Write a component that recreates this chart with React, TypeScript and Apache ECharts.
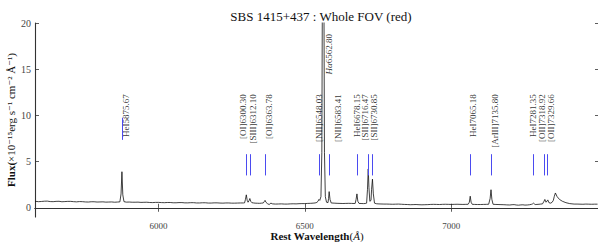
import React, { useEffect, useRef } from "react";
import * as echarts from "echarts";

const wavelength = [
  5578, 5590, 5600, 5610, 5620, 5630, 5640, 5650, 5660, 5670, 5680, 5690, 5700, 5710, 5720, 5730, 5740, 5750, 5760, 5770, 5780, 5790, 5800, 5810, 5820, 5830, 5840, 5850, 5860, 5868, 5872, 5875, 5878, 5882, 5890,
  5900, 5910, 5920, 5930, 5940, 5950, 5960, 5970, 5980, 5990, 6000, 6010, 6020, 6030, 6040, 6050, 6060, 6070, 6080, 6090, 6100, 6110, 6120, 6130, 6140, 6150, 6160, 6170, 6180, 6190, 6200, 6210, 6220, 6230, 6240, 6250, 6260, 6270, 6280, 6290, 6294, 6297, 6300, 6303, 6306, 6309, 6312, 6315, 6319,
  6325, 6330, 6338, 6345, 6352, 6358, 6361, 6364, 6367, 6372, 6378, 6384, 6390, 6400, 6410, 6420, 6430, 6440, 6450, 6460, 6470, 6480, 6490, 6500, 6510, 6520, 6528, 6535, 6541, 6545, 6548, 6551, 6555, 6558, 6560, 6562.8, 6565, 6567, 6570, 6574, 6579, 6581, 6583, 6586, 6590,
  6600, 6610, 6620, 6630, 6640, 6650, 6660, 6668, 6672, 6675, 6678, 6681, 6685, 6692, 6700, 6706, 6711, 6714, 6716.5, 6719, 6722, 6726, 6728, 6731, 6734, 6738, 6744, 6750, 6760, 6770, 6780, 6790, 6800, 6810, 6820, 6830, 6840, 6850, 6860, 6870, 6880, 6890, 6900, 6910, 6920, 6930, 6940, 6950, 6960, 6970, 6980, 6990,
  7000, 7010, 7020, 7030, 7040, 7050, 7058, 7062, 7065, 7068, 7072, 7080, 7090, 7100, 7110, 7120, 7128, 7133, 7136, 7139, 7143, 7150, 7160, 7170, 7180, 7190, 7200, 7208, 7215, 7222, 7230, 7238, 7245, 7252, 7260, 7268, 7275, 7278, 7281, 7284, 7287, 7293, 7300, 7306, 7312, 7317, 7320, 7324, 7328, 7330, 7334, 7340, 7345, 7349, 7352, 7356, 7362, 7370, 7380, 7392, 7405, 7420, 7430, 7440, 7450, 7460, 7470, 7480, 7490, 7500,
];

const flux = [
  0.70, 0.66, 0.68, 0.71, 0.72, 0.67, 0.66, 0.69, 0.70, 0.65, 0.67, 0.69, 0.69, 0.66, 0.64, 0.67, 0.66, 0.63, 0.62, 0.65, 0.65, 0.62, 0.63, 0.64, 0.61, 0.62, 0.63, 0.60, 0.62, 0.64, 1.5, 3.9, 1.4, 0.66, 0.61,
  0.62, 0.60, 0.60, 0.61, 0.58, 0.59, 0.60, 0.57, 0.56, 0.58, 0.58, 0.56, 0.55, 0.57, 0.57, 0.54, 0.54, 0.56, 0.56, 0.53, 0.53, 0.55, 0.55, 0.52, 0.52, 0.54, 0.54, 0.51, 0.51, 0.53, 0.53, 0.51, 0.50, 0.52, 0.52, 0.50, 0.50, 0.51, 0.52, 0.52, 0.53, 0.9, 1.4, 0.8, 0.6, 0.75, 1.0, 0.7, 0.55,
  0.52, 0.50, 0.49, 0.48, 0.50, 0.52, 0.65, 0.8, 0.6, 0.45, 0.35, 0.50, 0.42, 0.40, 0.41, 0.42, 0.40, 0.40, 0.42, 0.43, 0.42, 0.44, 0.45, 0.45, 0.47, 0.48, 0.50, 0.52, 0.58, 0.7, 0.9, 0.8, 1.2, 6, 25, 45, 25, 6, 1.2, 0.6, 0.55, 1.0, 1.75, 0.9, 0.52,
  0.50, 0.48, 0.47, 0.46, 0.47, 0.48, 0.47, 0.46, 0.47, 0.9, 1.5, 0.7, 0.47, 0.46, 0.45, 0.46, 0.50, 2.0, 4.2, 2.2, 0.7, 0.8, 2.0, 3.1, 1.5, 0.5, 0.44, 0.42, 0.41, 0.40, 0.40, 0.39, 0.38, 0.39, 0.40, 0.38, 0.36, 0.35, 0.33, 0.34, 0.35, 0.33, 0.32, 0.33, 0.34, 0.36, 0.37, 0.36, 0.35, 0.37, 0.38, 0.37,
  0.36, 0.37, 0.38, 0.37, 0.36, 0.37, 0.38, 0.6, 1.25, 0.6, 0.37, 0.36, 0.35, 0.35, 0.36, 0.37, 0.38, 1.0, 1.95, 0.9, 0.38, 0.36, 0.35, 0.34, 0.33, 0.31, 0.30, 0.33, 0.34, 0.30, 0.28, 0.31, 0.32, 0.29, 0.30, 0.33, 0.38, 0.42, 0.50, 0.42, 0.35, 0.36, 0.38, 0.40, 0.42, 0.7, 0.9, 0.6, 0.75, 0.85, 0.55, 0.50, 0.60, 0.80, 1.2, 1.6, 1.2, 0.9, 0.7, 0.55, 0.45, 0.40, 0.40, 0.39, 0.38, 0.40, 0.39, 0.38, 0.39, 0.39,
];

const lineNames = [
  "HeI5875.67", "[OI]6300.30", "[SIII]6312.10", "[OI]6363.78", "[NII]6548.03", "Hα6562.80", "[NII]6583.41", "HeI6678.15",
  "[SII]6716.47", "[SII]6730.85", "HeI7065.18", "[ArIII]7135.80", "HeI7281.35", "[OII]7318.92", "[OII]7329.66",
];
const lineWl = [5875.67, 6300.3, 6312.1, 6363.78, 6548.03, 6562.8, 6583.41, 6678.15, 6716.47, 6730.85, 7065.18, 7135.8, 7281.35, 7318.92, 7329.66];
const markerLow = [7.35, 3.5, 3.5, 3.5, 3.5, null, 3.5, 3.5, 3.5, 3.5, 3.5, 3.5, 3.5, 3.5, 3.5];
const markerHigh = [9.75, 5.8, 5.8, 5.8, 5.8, null, 5.8, 5.8, 5.8, 5.8, 5.8, 5.8, 5.8, 5.8, 5.8];
const labelWl = [5889, 6290, 6322, 6376, 6550, 6583, 6612, 6677, 6706, 6737, 7075, 7150, 7279, 7309, 7340];
const labelTop = [12.3, 12.3, 12.3, 12.3, 12.3, 18.8, 12.3, 12.3, 12.3, 12.3, 12.3, 12.3, 12.3, 12.3, 12.3];

const xTicks = [6000, 6500, 7000];
const yTicks = [0, 5, 10, 15, 20];

const SERIF = "'Liberation Serif', 'DejaVu Serif', serif";

export default function App() {
  const ref = useRef<HTMLDivElement>(null);
  useEffect(() => {
    if (!ref.current) return;
    const chart = echarts.init(ref.current, undefined, { renderer: "svg" });
    const axisLine = { show: true, lineStyle: { color: "#333", width: 1.1 } };
    const tick = { show: true, inside: true, length: 4, lineStyle: { color: "#333", width: 0.8 } };
    const xBase = { type: "value" as const, min: 5578, max: 7505, splitLine: { show: false }, axisLine };
    const yBase = { type: "value" as const, min: -1, max: 20, splitLine: { show: false }, axisLine };
    const plain = (v: number) => String(v);
    chart.setOption({
      animation: false,
      backgroundColor: "#fff",
      title: {
        text: "SBS 1415+437 : Whole FOV (red)",
        left: 316,
        textAlign: "center",
        top: 5,
        textStyle: { fontFamily: SERIF, fontSize: 13, fontWeight: "normal", color: "#111" },
      },
      grid: { left: 35, right: -1, top: 23, bottom: 25, containLabel: false, outerBoundsMode: "none" },
      xAxis: [
        {
          ...xBase,
          position: "bottom",
          axisTick: { ...tick, customValues: xTicks },
          axisLabel: { customValues: xTicks, formatter: plain, fontFamily: SERIF, fontSize: 9, color: "#444", margin: 4 },
          name: "{b|Rest Wavelength}{n|(}{i|Å}{n|)}",
          nameLocation: "middle",
          nameGap: 13,
          nameMoveOverlap: false,
          nameTextStyle: {
            fontFamily: SERIF,
            fontSize: 11,
            color: "#111",
            rich: {
              b: { fontFamily: SERIF, fontSize: 11, fontWeight: "bold", color: "#111" },
              n: { fontFamily: SERIF, fontSize: 11, color: "#111" },
              i: { fontFamily: SERIF, fontSize: 11, fontStyle: "italic", color: "#111" },
            },
          },
        },
        {
          ...xBase,
          position: "top",
          axisTick: { ...tick, customValues: xTicks },
          axisLabel: { show: false },
        },
      ],
      yAxis: [
        {
          ...yBase,
          position: "left",
          axisTick: { ...tick, customValues: yTicks },
          axisLabel: { customValues: yTicks, formatter: plain, fontFamily: SERIF, fontSize: 10, color: "#444", margin: 4 },
          name: "{b|Flux(}{n|×10⁻¹⁵erg s⁻¹ cm⁻² Å⁻¹)}",
          nameLocation: "middle",
          nameRotate: 90,
          nameGap: 19,
          nameMoveOverlap: false,
          nameTextStyle: {
            fontFamily: SERIF,
            color: "#111",
            rich: {
              b: { fontFamily: SERIF, fontSize: 11, fontWeight: "bold", color: "#111" },
              n: { fontFamily: SERIF, fontSize: 11, color: "#111" },
            },
          },
        },
        {
          ...yBase,
          position: "right",
          axisTick: { ...tick, customValues: yTicks },
          axisLabel: { show: false },
        },
      ],
      series: [
        {
          type: "line",
          xAxisIndex: 0,
          yAxisIndex: 0,
          data: wavelength.map((w, i) => [w, flux[i]]),
          showSymbol: false,
          symbol: "none",
          lineStyle: { color: "#111", width: 0.8 },
          clip: true,
          z: 3,
          markLine: {
            silent: true,
            symbol: ["none", "none"],
            label: { show: false },
            lineStyle: { color: "#4b4bf0", width: 1, type: "solid" },
            data: lineWl
              .map((w, i) =>
                markerLow[i] == null
                  ? null
                  : [
                      { coord: [w, markerLow[i]] },
                      { coord: [w, markerHigh[i]] },
                    ]
              )
              .filter((d) => d !== null),
          },
        },
        {
          type: "scatter",
          xAxisIndex: 0,
          yAxisIndex: 0,
          symbolSize: 0,
          silent: true,
          z: 4,
          data: lineNames.map((n, i) => [labelWl[i], labelTop[i], n]),
          label: {
            show: true,
            position: [0, 0],
            rotate: 90,
            align: "right",
            verticalAlign: "middle",
            fontFamily: SERIF,
            fontSize: 9,
            color: "#000",
            formatter: (p: any) => {
              const s: string = p.data[2];
              return s.startsWith("Hα") ? "{i|Hα}" + s.slice(2) : s;
            },
            rich: {
              i: { fontFamily: SERIF, fontSize: 9, fontStyle: "italic", color: "#000" },
            },
          },
        },
      ],
    });
    return () => chart.dispose();
  }, []);
  return <div ref={ref} style={{ width: 598, height: 242, position: "absolute", left: 0, top: 0 }} />;
}
